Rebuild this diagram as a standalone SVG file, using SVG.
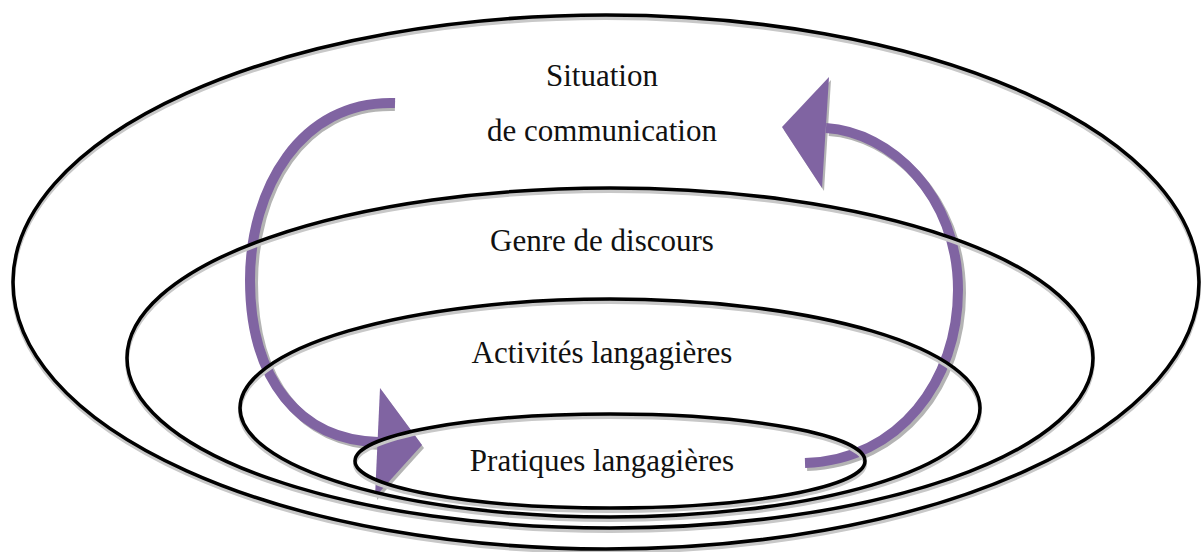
<svg xmlns="http://www.w3.org/2000/svg" width="1201" height="552" viewBox="0 0 1201 552">
<style>
.ring{fill:none;stroke:#000;stroke-width:3.5}
.ringsh{fill:none;stroke:#c8c8c8;stroke-width:4}
.arc{fill:none;stroke:#8064a2;stroke-width:10}
.arcsh{fill:none;stroke:#b4b4b4;stroke-width:10}
.head{fill:#8064a2}
.headsh{fill:#b4b4b4}
.lbl{font-family:"Liberation Serif","Times New Roman",serif;font-size:31px;fill:#111;text-anchor:middle}
</style>
<rect width="1201" height="552" fill="#fff"/>
<g id="connectors">
  <path class="arcsh" d="M395,106 C300,103 253,193 253,283 C253,383 303,443 381,445"/>
  <polygon class="headsh" points="382,391 424,448 377,500"/>
  <path class="arcsh" d="M807,466 C902,463 961,383 961,293 C961,198 892,135 829,131"/>
  <polygon class="headsh" points="831,80 784,130 824,191"/>
  <path class="arc" d="M395,103 C300,100 250,190 250,280 C250,380 300,440 378,442"/>
  <polygon class="head" points="380,388 422,445 375,497"/>
  <path class="arc" d="M805,463 C900,460 958,380 958,290 C958,195 890,132 826,128"/>
  <polygon class="head" points="829,77 782,127 822,188"/>
</g>
<g id="situation">
  <ellipse class="ringsh" cx="606" cy="285" rx="593" ry="267"/>
  <ellipse class="ring" cx="606" cy="282" rx="593" ry="267"/>
  <text class="lbl" x="602" y="86">Situation</text>
  <text class="lbl" x="602" y="141">de communication</text>
</g>
<g id="genre">
  <ellipse class="ringsh" cx="610" cy="361" rx="483" ry="170"/>
  <ellipse class="ring" cx="610" cy="358" rx="483" ry="170"/>
  <text class="lbl" x="602" y="251">Genre de discours</text>
</g>
<g id="activites">
  <ellipse class="ringsh" cx="610" cy="411" rx="370" ry="109"/>
  <ellipse class="ring" cx="610" cy="408" rx="370" ry="109"/>
  <text class="lbl" x="602" y="363">Activités langagières</text>
</g>
<g id="pratiques">
  <ellipse class="ringsh" cx="610" cy="464" rx="255" ry="47"/>
  <ellipse class="ring" cx="610" cy="461" rx="255" ry="47"/>
  <text class="lbl" x="602" y="471">Pratiques langagières</text>
</g>
</svg>
